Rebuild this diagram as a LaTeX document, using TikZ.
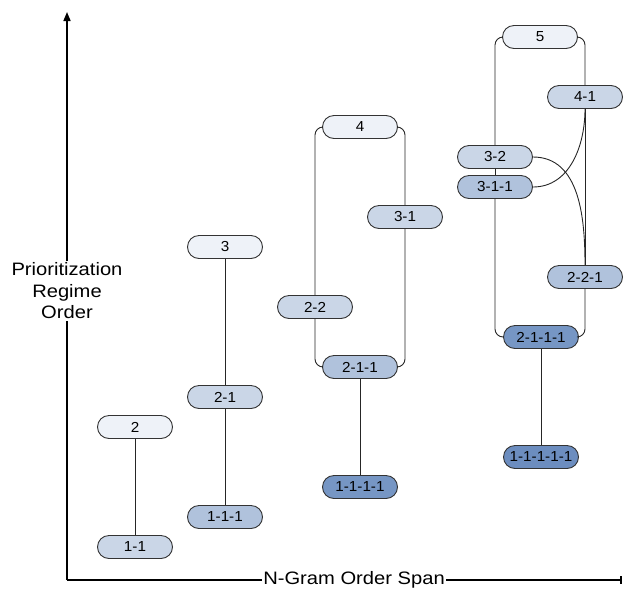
\documentclass[tikz,border=0pt]{standalone}
\usepackage{fontspec}
\setmainfont{Liberation Sans}
\newfontfamily\axisfont{Liberation Sans}[FakeStretch=1.12]
\newfontfamily\gramfont{Liberation Sans}[FakeStretch=1.05]
\usetikzlibrary{shapes.misc,arrows.meta}

% fill shades: one to five components
\definecolor{shadeA}{HTML}{EEF2F8}
\definecolor{shadeB}{HTML}{CAD6E7}
\definecolor{shadeC}{HTML}{B0C2DC}
\definecolor{shadeD}{HTML}{7696C4}
\definecolor{shadeE}{HTML}{6C8DBF}

\tikzset{
  gram/.style={rounded rectangle, draw=black!80, line width=0.9pt,
    minimum width=75pt, minimum height=23pt, inner sep=0pt,
    font=\gramfont\fontsize{14.5}{17}\selectfont},
  gramA/.style={gram, fill=shadeA},
  gramB/.style={gram, fill=shadeB},
  gramC/.style={gram, fill=shadeC},
  gramD/.style={gram, fill=shadeD},
  gramE/.style={gram, fill=shadeE},
  link/.style={draw=black!85, line width=0.9pt},
  cornerlink/.style={link, rounded corners=8pt},
  axisline/.style={line width=1.6pt, draw=black},
  axislabel/.style={fill=white, inner sep=1.5pt,
    font=\axisfont\fontsize{18}{21.5}\selectfont, align=center},
}

\begin{document}
\begin{tikzpicture}[x=1pt,y=-1pt]
\useasboundingbox (0,0) rectangle (629,590);

% axes
\coordinate (origin) at (67,580);
\coordinate (ytop) at (67,12);
\coordinate (xend) at (622,580);
\draw[axisline, -{Triangle[length=9pt,width=7pt]}] (origin) -- (ytop);
\draw[axisline, -{Bar[width=8pt,line width=2.5pt]}] (origin) -- (xend);
\node[axislabel] (ylab) at (67,291) {Prioritization\\Regime\\Order};
\node[axislabel] (xlab) at (354,580) {N-Gram Order Span};

% span 1-2
\node[gramA] (n2) at (135,427) {2};
\node[gramB] (n11) at (135,547) {1-1};

% span 3
\node[gramA] (n3) at (225,247) {3};
\node[gramB] (n21) at (225,397) {2-1};
\node[gramC] (n111) at (225,517) {1-1-1};

% span 4
\node[gramA] (n4) at (360,127) {4};
\node[gramB] (n31) at (405,217) {3-1};
\node[gramB] (n22) at (315,307) {2-2};
\node[gramC] (n211) at (360,367) {2-1-1};
\node[gramD] (n1111) at (360,487) {1-1-1-1};

% span 5
\node[gramA] (n5) at (540,37) {5};
\node[gramB] (n41) at (585,97) {4-1};
\node[gramB] (n32) at (495,157) {3-2};
\node[gramC] (n311) at (495,187) {3-1-1};
\node[gramC] (n221) at (585,277) {2-2-1};
\node[gramD] (n2111) at (541,337) {2-1-1-1};
\node[gramE] (n11111) at (541,457) {1-1-1-1-1};

% connectors
\draw[link] (n2.south) -- (n11.north);
\draw[link] (n3.south) -- (n21.north);
\draw[link] (n21.south) -- (n111.north);

\draw[cornerlink] (n4.west) -| (n22.north);
\draw[cornerlink] (n22.south) |- (n211.west);
\draw[cornerlink] (n4.east) -| (n31.north);
\draw[cornerlink] (n31.south) |- (n211.east);
\draw[link] (n211.south) -- (n1111.north);

\draw[cornerlink] (n5.west) -| (n32.north);
\draw[link] (n32.south) -- (n311.north);
\draw[cornerlink] (n311.south) |- (n2111.west);
\draw[cornerlink] (n5.east) -| (n41.north);
\draw[link] (n41.south) -- (n221.north);
\draw[cornerlink] (n221.south) |- (n2111.east);
\draw[link] (n2111.south) -- (n11111.north);
\draw[link] (n32.east) to[out=0,in=90] (n221.north);
\draw[link] (n311.east) to[out=0,in=-90] (n41.south);
\end{tikzpicture}
\end{document}
